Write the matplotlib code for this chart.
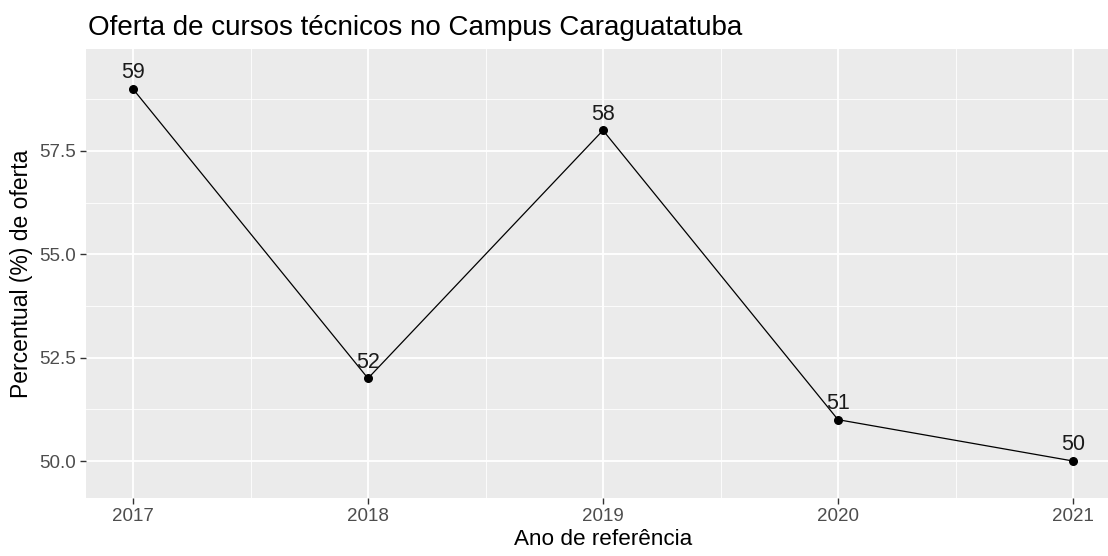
import matplotlib
matplotlib.use("Agg")
import matplotlib.pyplot as plt
from matplotlib.ticker import FixedLocator

anos = [2017, 2018, 2019, 2020, 2021]
percentual = [59, 52, 58, 51, 50]
y_ticks = [50.0, 52.5, 55.0, 57.5]
y_tick_labels = ["50.0", "52.5", "55.0", "57.5"]
titulo = "Oferta de cursos técnicos no Campus Caraguatatuba"
x_label = "Ano de referência"
y_label = "Percentual (%) de oferta"

plt.rcParams['font.family'] = ['Liberation Sans', 'DejaVu Sans']

W, H = 1108, 556
fig = plt.figure(figsize=(W / 100, H / 100), dpi=100)
left, right, top, bottom = 86, 1120, 49.3, 498
ax = fig.add_axes([left / W, (H - bottom) / H, (right - left) / W, (bottom - top) / H])
ax.set_facecolor('#EBEBEB')
for s in ax.spines.values():
    s.set_visible(False)

ax.set_xlim(2016.8, 2021.2)
ax.set_ylim(49.105, 59.96)

ax.xaxis.set_major_locator(FixedLocator(anos))
ax.set_xticklabels([str(a) for a in anos])
ax.xaxis.set_minor_locator(FixedLocator([2017.5, 2018.5, 2019.5, 2020.5]))
ax.yaxis.set_major_locator(FixedLocator(y_ticks))
ax.set_yticklabels(y_tick_labels)
ax.yaxis.set_minor_locator(FixedLocator([51.25, 53.75, 56.25, 58.75]))

ax.grid(which='major', color='white', linewidth=1.3)
ax.grid(which='minor', color='white', linewidth=0.6)
ax.set_axisbelow(True)
ax.tick_params(which='major', length=4, width=1, color='#333333', labelcolor='#4D4D4D', labelsize=13.5, pad=3)
ax.tick_params(which='minor', length=0)

ax.plot(anos, percentual, color='black', linewidth=0.9, zorder=3)
ax.scatter(anos, percentual, color='black', s=30, zorder=4)
for a, p in zip(anos, percentual):
    ax.annotate(str(p), (a, p), xytext=(0, 4), textcoords='offset points',
                ha='center', va='bottom', fontsize=15.5, color='#1A1A1A', zorder=5)

ax.set_xlabel(x_label, fontsize=16.2, color='black', labelpad=3)
ax.set_ylabel(y_label, fontsize=16.5, color='black', labelpad=5)
fig.text(88 / W, 1 - 28 / H, titulo, fontsize=20, color='black', ha='left', va='center')

fig.savefig('out.png', dpi=100)
